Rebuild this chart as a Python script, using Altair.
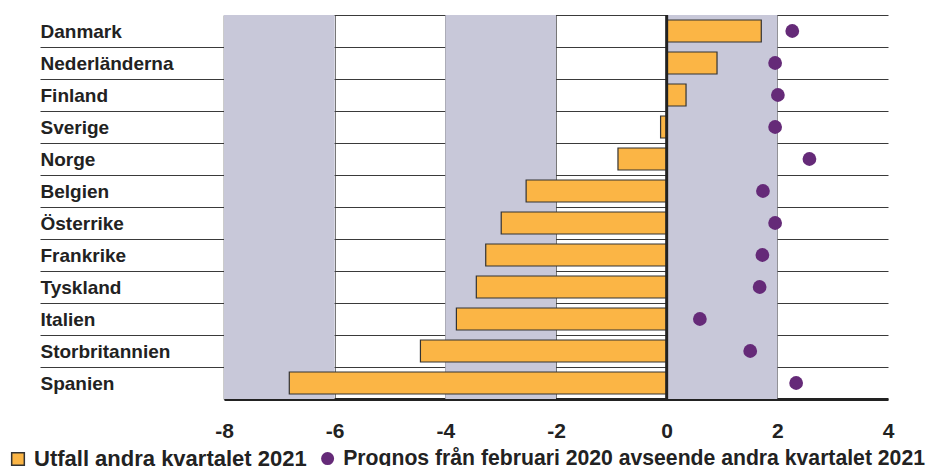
import altair as alt
import pandas as pd

countries = ["Danmark", "Nederländerna", "Finland", "Sverige", "Norge", "Belgien",
             "Österrike", "Frankrike", "Tyskland", "Italien", "Storbritannien", "Spanien"]
outcome_q2_2021 = [1.71, 0.91, 0.35, -0.11, -0.88, -2.54, -2.99, -3.27, -3.44, -3.80, -4.45, -6.82]
forecast_feb_2020 = [2.27, 1.96, 2.01, 1.96, 2.58, 1.74, 1.96, 1.73, 1.68, 0.60, 1.51, 2.34]
x_ticks = [-8, -6, -4, -2, 0, 2, 4]
band_start = [-8, -4, 0]
band_end = [-6, -2, 2]

bar_name = "Utfall andra kvartalet 2021"
dot_name = "Prognos från februari 2020 avseende andra kvartalet 2021"

FONT = "Liberation Sans, Arial, sans-serif"

df = pd.DataFrame({
    "land": countries,
    "utfall": outcome_q2_2021,
    "prognos": forecast_feb_2020,
    "s_bar": [bar_name] * len(countries),
    "s_dot": [dot_name] * len(countries),
})
bands = pd.DataFrame({"x0": band_start, "x1": band_end})
zero = pd.DataFrame({"x": [0]})

xscale = alt.Scale(domain=[-8, 4], nice=False, zero=False)
yscale = alt.Scale(domain=countries, paddingInner=0, paddingOuter=0)

x_axis = alt.Axis(
    values=x_ticks, title=None, grid=True, gridColor="#777", gridWidth=1,
    gridOpacity={"condition": {"test": "datum.value == -8 || datum.value == 4", "value": 0}, "value": 1},
    ticks=False, domain=True, domainColor="#222", domainWidth=3,
    labelFont=FONT, labelFontWeight="bold", labelFontSize=21, labelColor="#222",
    labelPadding=21, labelExpr="toString(datum.value)", labelFlush=False,
)
y_axis = alt.Axis(
    title=None, grid=True, gridColor="#3a3a3a", gridWidth=1, tickBand="extent",
    ticks=True, tickSize=184, tickColor="#3a3a3a", tickWidth=1,
    tickOpacity={"condition": {"test": "datum.value == 'Spanien' || !datum.value", "value": 0}, "value": 1},
    domain=True, domainColor="#333", domainWidth=1.5,
    labelAlign="left", labelPadding=0, labelBaseline="middle",
    labelFont=FONT, labelFontWeight="bold", labelFontSize=19, labelColor="#222",
)

band_layer = alt.Chart(bands).mark_rect(color="#c8c8d9").encode(
    x=alt.X("x0:Q", scale=xscale, axis=x_axis),
    x2="x1:Q",
)

bar_layer = alt.Chart(df).mark_bar(size=22, stroke="#333", strokeWidth=1.2).encode(
    y=alt.Y("land:N", sort=countries, scale=yscale, axis=y_axis),
    x=alt.X("utfall:Q", scale=xscale),
    fill=alt.Fill("s_bar:N", scale=alt.Scale(domain=[bar_name], range=["#fbb545"]),
                  legend=alt.Legend(title=None, orient="none", legendX=-217, legendY=433,
                                    symbolType="square", symbolSize=160,
                                    symbolStrokeColor="#333", symbolStrokeWidth=1.5,
                                    labelFont=FONT, labelFontWeight="bold", labelFontSize=22,
                                    labelColor="#222", labelOffset=5, labelLimit=800)),
)

dot_layer = alt.Chart(df).mark_circle(size=190, opacity=1).encode(
    y=alt.Y("land:N", sort=countries, scale=yscale),
    x=alt.X("prognos:Q", scale=xscale),
    color=alt.Color("s_dot:N", scale=alt.Scale(domain=[dot_name], range=["#652a78"]),
                    legend=alt.Legend(title=None, orient="none", legendX=93, legendY=433,
                                      symbolType="circle", symbolSize=170,
                                      labelFont=FONT, labelFontWeight="bold", labelFontSize=21.2,
                                      labelColor="#222", labelOffset=5, labelLimit=800)),
)

zero_layer = alt.Chart(zero).mark_rule(color="#222", strokeWidth=3).encode(
    x=alt.X("x:Q", scale=xscale),
)

chart = alt.layer(band_layer, bar_layer, dot_layer, zero_layer).properties(
    width=664, height=384,
    autosize=alt.AutoSizeParams(type="none"),
    padding={"left": 216, "top": 7, "right": 40, "bottom": 120},
).configure_axis(zindex=1).configure_view(stroke=None)

chart.save("out.html", embed_options={"renderer": "svg", "actions": False})
